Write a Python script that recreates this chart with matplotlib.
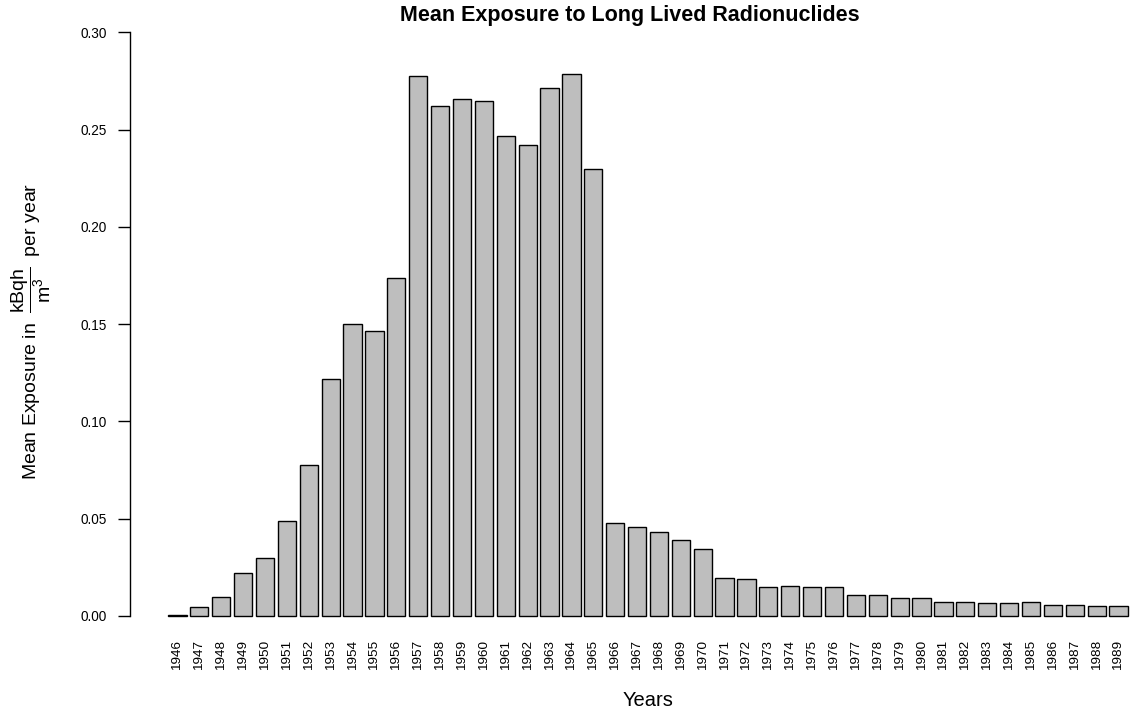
import matplotlib
matplotlib.use("Agg")
import matplotlib.pyplot as plt
import numpy as np

years = [str(y) for y in range(1946, 1990)]
exposure = [0.0005, 0.0046, 0.0099, 0.0219, 0.0298, 0.0490, 0.0778, 0.1216,
            0.1502, 0.1466, 0.1737, 0.2774, 0.2623, 0.2659, 0.2648, 0.2467,
            0.2422, 0.2712, 0.2787, 0.2299, 0.0480, 0.0457, 0.0433, 0.0389,
            0.0343, 0.0194, 0.0190, 0.0151, 0.0156, 0.0149, 0.0149, 0.0110,
            0.0110, 0.0093, 0.0094, 0.0070, 0.0070, 0.0065, 0.0069, 0.0070,
            0.0058, 0.0055, 0.0053, 0.0051]
yticks = [0.00, 0.05, 0.10, 0.15, 0.20, 0.25, 0.30]

plt.rcParams['font.family'] = ['Liberation Sans', 'DejaVu Sans']
plt.rcParams['mathtext.fontset'] = 'custom'
plt.rcParams['mathtext.rm'] = 'Liberation Sans'
plt.rcParams['mathtext.it'] = 'Liberation Sans:italic'
plt.rcParams['mathtext.bf'] = 'Liberation Sans:bold'

W, H = 1131, 713
fig = plt.figure(figsize=(W / 100, H / 100), dpi=100)
ax_left, ax_right, ax_top, ax_bottom = 130, 1166, 9, 639.3
ax = fig.add_axes([ax_left / W, (H - ax_bottom) / H,
                   (ax_right - ax_left) / W, (ax_bottom - ax_top) / H])

n = len(years)
x = 0.7 + 1.2 * np.arange(n)
ax.bar(x, exposure, width=1.0, color='#BEBEBE', edgecolor='black', linewidth=1.0)

ax.set_xlim(-1.904, 54.904)
ax.set_ylim(-0.012, 0.312)

for s in ['top', 'right', 'bottom']:
    ax.spines[s].set_visible(False)
ax.spines['left'].set_bounds(0, 0.30)
ax.spines['left'].set_linewidth(1.0)

ax.set_yticks(yticks)
ax.set_yticklabels([f"{v:.2f}" for v in yticks])
ax.tick_params(axis='y', direction='out', length=8.4, width=1.0, pad=8.0, labelsize=9.8)

ax.set_xticks(x)
ax.set_xticklabels(years, rotation=90)
ax.tick_params(axis='x', length=0, pad=0.5, labelsize=9.7)

fig.text(630 / W, 1 - 16 / H, "Mean Exposure to Long Lived Radionuclides",
         ha='center', va='center', fontsize=15.5, fontweight='bold')
fig.text(648 / W, 1 - 700 / H, "Years", ha='center', va='center', fontsize=14.5)
fig.text(31 / W, 1 - 331 / H,
         r"Mean Exposure in $\;\dfrac{\mathrm{kBqh}}{\mathrm{m}^3}\;$ per year",
         ha='center', va='center', rotation=90, fontsize=14)

fig.savefig("out.png", dpi=100)
